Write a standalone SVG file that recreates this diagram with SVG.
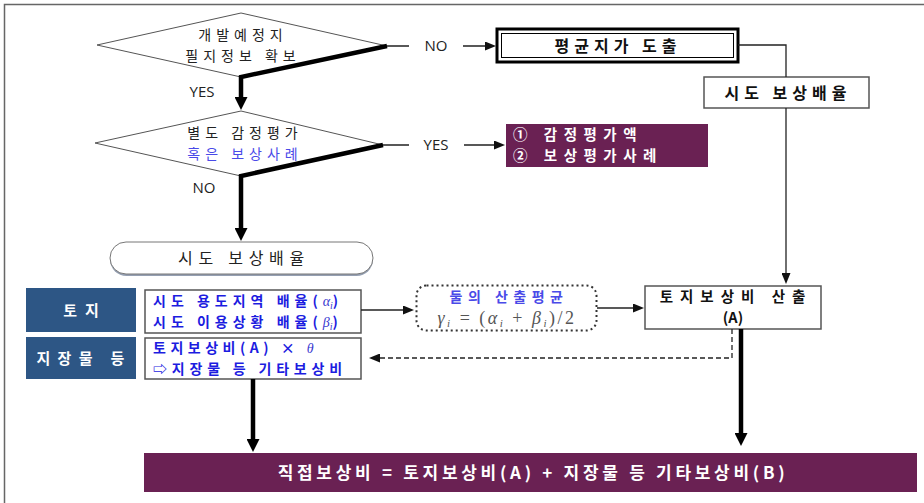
<svg xmlns="http://www.w3.org/2000/svg" width="924" height="503" viewBox="0 0 924 503">
<defs>
<style>
text{font-family:"Noto Sans CJK KR","Noto Sans",sans-serif;}
.t{font-size:14px;letter-spacing:5px;fill:#222;text-anchor:middle;}
.b{font-size:14.5px;font-weight:bold;letter-spacing:7px;fill:#111;text-anchor:middle;}
.b1{font-size:16px;font-weight:bold;letter-spacing:5px;fill:#111;text-anchor:middle;}
.w{font-size:14.5px;font-weight:bold;letter-spacing:6.5px;fill:#fff;}
.wl{font-size:15px;font-weight:bold;fill:#fff;text-anchor:middle;}
.bl{font-size:14px;font-weight:bold;fill:#1c1ce0;letter-spacing:5px;}
.lb{font-size:15px;fill:#222;text-anchor:middle;font-family:"Open Sans","Noto Sans",sans-serif;}
.m{font-family:"Liberation Serif","DejaVu Serif",serif;font-style:italic;font-weight:normal;letter-spacing:0;}
.thin{fill:none;stroke:#222;stroke-width:1.3;}
.thick{fill:none;stroke:#000;stroke-width:4.5;}
.box{fill:#fff;stroke:#555;stroke-width:1.5;}
.dia{fill:#fff;stroke:#555;stroke-width:1;}
.pur{fill:#6a2153;}
.blu{fill:#2d5685;}
</style>
<marker id="ah" markerUnits="userSpaceOnUse" markerWidth="11" markerHeight="9" refX="1" refY="4.5" orient="auto"><path d="M0,0 L11,4.5 L0,9 z" fill="#111"/></marker>
<marker id="aht" markerUnits="userSpaceOnUse" markerWidth="13" markerHeight="13" refX="1" refY="6.5" orient="auto"><path d="M0,0 L13,6.5 L0,13 z" fill="#000"/></marker>
</defs>
<rect width="924" height="503" fill="#fff"/>
<path d="M4.5,503 L4.5,4.5 L924,4.5" fill="none" stroke="#666" stroke-width="1.5"/>

<g id="d1">
<polygon class="dia" points="97,45 241,13 387,46 241,77"/>
<text class="t" x="243" y="39.5">개발예정지</text>
<text class="t" x="243" y="60.5">필지정보 확보</text>
</g>
<g id="n_avg">
<rect x="497" y="29" width="241" height="33" fill="#fff" stroke="#000" stroke-width="3"/>
<rect x="501.5" y="33.5" width="232" height="24" fill="none" stroke="#000" stroke-width="1"/>
<text class="b1" x="618" y="51.5">평균지가 도출</text>
</g>
<g id="n_rate1">
<rect class="box" x="704" y="77" width="165" height="31"/>
<text class="b1" x="788" y="98.5">시도 보상배율</text>
</g>
<g id="d2">
<polygon class="dia" points="95,143 241,111 383,145 241,176"/>
<text class="t" x="245" y="138.3">별도 감정평가</text>
<text class="t" x="245" y="159.3" style="fill:#4a4ae8">혹은 보상사례</text>
</g>
<g id="n_case">
<rect class="pur" x="506" y="124" width="202" height="43"/>
<text class="w" x="513" y="140.3">① 감정평가액</text>
<text class="w" x="513" y="161.3">② 보상평가사례</text>
</g>
<g id="n_rate2">
<rect x="110" y="243" width="263" height="33" rx="16.5" fill="#2a3f66" opacity="0.5"/>
<rect x="110" y="242" width="263" height="32" rx="16" fill="#fff" stroke="#777" stroke-width="1"/>
<text x="244" y="264" text-anchor="middle" style="font-size:16px;letter-spacing:5.7px;fill:#222">시도 보상배율</text>
</g>
<g id="n_land_lbl">
<rect class="blu" x="26" y="288" width="110" height="44"/>
<text class="wl" x="85" y="315.5" style="letter-spacing:8px">토지</text>
</g>
<g id="n_land">
<rect class="box" x="145" y="290" width="216" height="43"/>
<text class="bl" x="153" y="306.3">시도 용도지역 배율(<tspan class="m" fill="#3a3ad0">α<tspan font-size="10" dy="3">i</tspan></tspan><tspan dy="-3">)</tspan></text>
<text class="bl" x="153" y="327.3">시도 이용상황 배율(<tspan class="m" fill="#3a3ad0">β<tspan font-size="10" dy="3">i</tspan></tspan><tspan dy="-3">)</tspan></text>
</g>
<g id="n_avg2">
<rect x="416.5" y="285.5" width="180" height="45" rx="10" fill="#fff" stroke="#333" stroke-width="2" stroke-dasharray="2,3"/>
<text x="509" y="302.3" text-anchor="middle" style="font-size:14px;font-weight:bold;fill:#4a4ae8;letter-spacing:5.5px">둘의 산출평균</text>
<text x="507" y="323.5" text-anchor="middle" class="m" style="font-size:18px;fill:#555;letter-spacing:2.5px">γ<tspan font-size="11" dy="3">i</tspan><tspan dy="-3" font-style="normal"> = (</tspan>α<tspan font-size="11" dy="3">i</tspan><tspan dy="-3" font-style="normal"> + </tspan>β<tspan font-size="11" dy="3">i</tspan><tspan dy="-3" font-style="normal">)/2</tspan></text>
</g>
<g id="n_landA">
<rect class="box" x="645" y="286" width="176" height="43"/>
<text class="b" x="736" y="302.3">토지보상비 산출</text>
<text class="b" x="733" y="323.3" style="letter-spacing:0">(A)</text>
</g>
<g id="n_obj_lbl">
<rect class="blu" x="26" y="337" width="110" height="42"/>
<text class="wl" x="84" y="363.5" style="letter-spacing:7.3px">지장물 등</text>
</g>
<g id="n_obj">
<rect class="box" x="145" y="338" width="216" height="41"/>
<text class="bl" x="153" y="353.3" style="letter-spacing:4.5px">토지보상비(A) × <tspan class="m" fill="#3a3ad0">θ</tspan></text>
<text class="bl" x="153" y="374.3" style="letter-spacing:4.8px">⇨지장물 등 기타보상비</text>
</g>
<g id="n_total">
<rect class="pur" x="144" y="453" width="773" height="39"/>
<text x="533" y="478.5" text-anchor="middle" style="font-size:17px;font-weight:bold;fill:#fff;letter-spacing:3.7px">직접보상비 = 토지보상비(A) + 지장물 등 기타보상비(B)</text>
</g>

<g id="connectors">
<path class="thick" d="M387,46 L241,77 L241,98" marker-end="url(#aht)"/>
<path class="thin" d="M387,46 L409,46 M463,46 L486,46" marker-end="url(#ah)"/>
<path class="thick" d="M383,145 L241,176 L241,229" marker-end="url(#aht)"/>
<path class="thin" d="M383,145 L409,145 M464,145 L495,145" marker-end="url(#ah)"/>
<path class="thin" d="M738,45 L786,45 L786,77"/>
<path class="thin" d="M786,108 L786,274" marker-end="url(#ah)"/>
<path class="thin" d="M361,310 L404,310" marker-end="url(#ah)"/>
<path class="thin" d="M597,308 L634,308" marker-end="url(#ah)"/>
<path class="thin" d="M732,329 L732,358 L379,358" stroke-dasharray="5,3" marker-end="url(#ah)"/>
<path class="thick" d="M741,329 L741,434" marker-end="url(#aht)"/>
<path class="thick" d="M253,379 L253,440" marker-end="url(#aht)"/>
<text class="lb" x="436" y="51">NO</text>
<text class="lb" x="436" y="150">YES</text>
<text class="lb" x="202" y="97">YES</text>
<text class="lb" x="204" y="193">NO</text>
</g>
</svg>
